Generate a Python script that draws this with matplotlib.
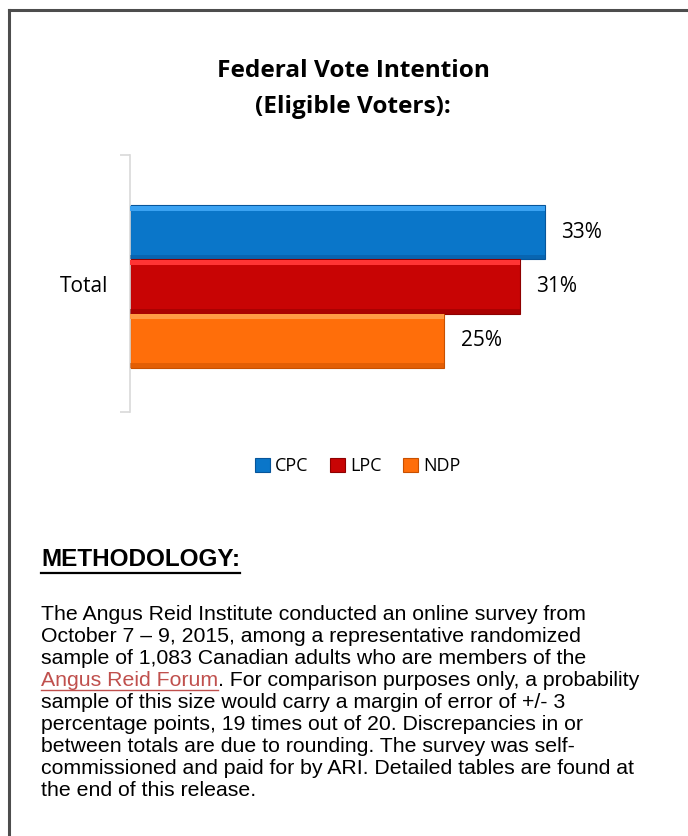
import numpy as np
import matplotlib
matplotlib.use("Agg")
import matplotlib.pyplot as plt
from matplotlib.lines import Line2D
from matplotlib.patches import Rectangle

parties = ["CPC", "LPC", "NDP"]
values = [33, 31, 25]
category = "Total"
colors = ["#0a76c9", "#c80404", "#ff6e0a"]
highlights = ["#3aa2f2", "#ff3434", "#ff9b45"]
shadows = ["#07559a", "#8e0000", "#c85000"]

title = "Federal Vote Intention\n(Eligible Voters):"
method_title = "METHODOLOGY:"
body_lines = [
    "The Angus Reid Institute conducted an online survey from",
    "October 7 \u2013 9, 2015, among a representative randomized",
    "sample of 1,083 Canadian adults who are members of the",
    None,
    "sample of this size would carry a margin of error of +/- 3",
    "percentage points, 19 times out of 20. Discrepancies in or",
    "between totals are due to rounding. The survey was self-",
    "commissioned and paid for by ARI. Detailed tables are found at",
    "the end of this release.",
]
link_text = "Angus Reid Forum"
link_rest = ". For comparison purposes only, a probability"

W, H = 688, 836
fig = plt.figure(figsize=(W / 100, H / 100), dpi=100)
fig.patch.set_facecolor("white")

# page frame (top and left edges)
fig.add_artist(Line2D([9 / W, 1], [1 - 10 / H, 1 - 10 / H], color="#4d4d4d", lw=2.2))
fig.add_artist(Line2D([9 / W, 9 / W], [0, 1 - 10 / H], color="#4d4d4d", lw=2.2))

fig.text(353 / W, 1 - 89 / H, title, ha="center", va="center", fontsize=17.6,
         fontweight="bold", family="Open Sans", linespacing=1.62)

# chart axes
ax = fig.add_axes([130 / W, 1 - 412 / H, 503 / W, 257 / H])
ypos = np.array([1, 0, -1])
bh = 1.0
ax.barh(ypos, values, height=bh, color=colors, edgecolor=shadows, linewidth=0.8, zorder=2)
# bevel: light top strip, dark bottom strip
ax.barh(ypos + bh / 2 - 0.06, values, height=0.1, color=highlights, linewidth=0, zorder=3)
ax.barh(ypos - bh / 2 + 0.04, values, height=0.08, color=shadows, linewidth=0, alpha=0.5, zorder=3)
for y, v in zip(ypos, values):
    ax.text(v + 1.3, y, f"{v}%", va="center", ha="left", fontsize=15, family="Open Sans")

ax.set_xlim(0, 40)
ax.set_ylim(-2.32, 2.43)
for s in ["top", "right", "bottom"]:
    ax.spines[s].set_visible(False)
ax.spines["left"].set_color("#d9d9d9")
ax.spines["left"].set_linewidth(1.2)
ax.set_xticks([])
ax.set_yticks([-2.32, 2.43])
ax.set_yticklabels([])
ax.tick_params(axis="y", length=7, color="#d9d9d9", width=1.2)
ax.text(-1.75, 0, category, ha="right", va="center", fontsize=15, family="Open Sans")

# legend
handles = [Rectangle((0, 0), 1, 1, facecolor=c, edgecolor=s, lw=0.8) for c, s in zip(colors, shadows)]
fig.legend(handles, parties, loc="center", bbox_to_anchor=(358 / W, 1 - 466 / H), ncol=3,
           frameon=False, prop={"family": "Open Sans", "size": 13}, handlelength=0.8,
           handleheight=0.8, handletextpad=0.3, columnspacing=1.2)

# methodology text
mt = fig.text(41 / W, 1 - 560 / H, method_title, ha="left", va="center", fontsize=17.5,
              fontweight="bold", family="Liberation Sans")
fig.canvas.draw()
mb = mt.get_window_extent()
fig.add_artist(Line2D([41 / W, mb.x1 / W], [1 - 573 / H, 1 - 573 / H], color="black", lw=1.6))

y0 = 614
dy = 22
fs = 15.3
for i, line in enumerate(body_lines):
    yy = 1 - (y0 + i * dy) / H
    if line is None:
        lt = fig.text(41 / W, yy, link_text, ha="left", va="center", fontsize=fs,
                      family="Liberation Sans", color="#c0504d")
        fig.canvas.draw()
        bb = lt.get_window_extent()
        x1 = bb.x1 / W
        fig.add_artist(Line2D([41 / W, x1], [yy - 10 / H, yy - 10 / H], color="#c0504d", lw=1))
        fig.text(x1, yy, link_rest, ha="left", va="center", fontsize=fs,
                 family="Liberation Sans")
    else:
        fig.text(41 / W, yy, line, ha="left", va="center", fontsize=fs, family="Liberation Sans")

fig.savefig("out.png", dpi=100)
